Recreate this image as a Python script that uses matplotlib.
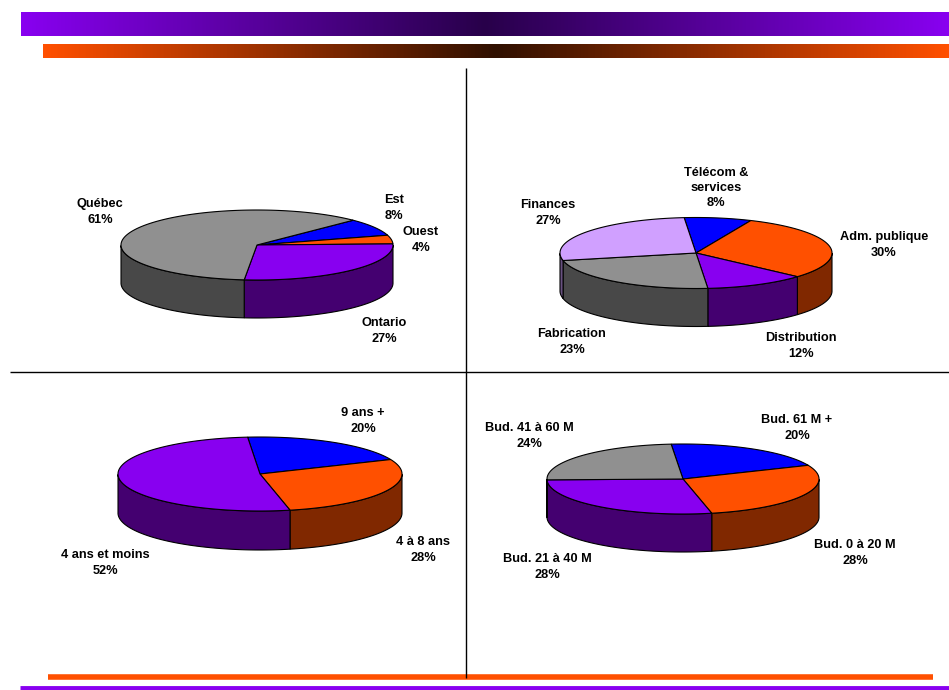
#!/usr/bin/env python3
import numpy as np
import matplotlib
matplotlib.use('Agg')
import matplotlib.pyplot as plt
from matplotlib.colors import LinearSegmentedColormap

plt.rcParams['font.family'] = ['Liberation Sans', 'DejaVu Sans']

# data
region_names = ['Est', 'Ouest', 'Ontario', 'Québec']
region_vals = [8, 4, 27, 61]
sector_names = ['Télécom &\nservices', 'Adm. publique', 'Distribution', 'Fabrication', 'Finances']
sector_vals = [8, 30, 12, 23, 27]
age_names = ['9 ans +', '4 à 8 ans', '4 ans et moins']
age_vals = [20, 28, 52]
budget_names = ['Bud. 61 M +', 'Bud. 0 à 20 M', 'Bud. 21 à 40 M', 'Bud. 41 à 60 M']
budget_vals = [20, 28, 28, 24]

BLUE = ('#0000FF', '#000080')
ORANGE = ('#FF5000', '#802800')
PURPLE = ('#8800F0', '#440070')
GREY = ('#909090', '#484848')
LILAC = ('#D0A0FF', '#685080')

fig = plt.figure(figsize=(9.49, 6.9), dpi=100)
ax = fig.add_axes([0, 0, 1, 1])
ax.set_xlim(0, 949)
ax.set_ylim(690, 0)
ax.axis('off')


def gradient(x0, x1, y0, y1, edge, mid):
    cmap = LinearSegmentedColormap.from_list('g', [edge, mid, edge])
    ax.imshow(np.linspace(0, 1, 512).reshape(1, -1), cmap=cmap, aspect='auto',
              extent=(x0, x1, y1, y0), zorder=1)


def pie3d(cx, cy, rx, ry, depth, start, vals, colors):
    # slices run clockwise from the start angle
    angles = start - np.cumsum([0] + vals) * 3.6
    for a0, a1, (top, side) in zip(angles[:-1], angles[1:], colors):
        t = np.radians(np.linspace(a0, a1, 200))
        x = cx + rx * np.cos(t)
        y = cy - ry * np.sin(t)
        # wall only where the arc faces the viewer
        front = np.sin(t) <= 0
        if front.any():
            fx, fy = x[front], y[front]
            ax.fill(np.r_[fx, fx[::-1]], np.r_[fy, fy[::-1] + depth],
                    facecolor=side, edgecolor='black', linewidth=0.8, zorder=3)
        ax.fill(np.r_[cx, x], np.r_[cy, y], facecolor=top, edgecolor='black',
                linewidth=0.8, zorder=4)


def labels(names, vals, positions):
    for name, val, (x, y) in zip(names, vals, positions):
        ax.text(x, y, f'{name}\n{val}%', ha='center', va='center', fontsize=9.2,
                fontweight='bold', color='black', linespacing=1.34, zorder=5)


# bandeaux du haut
gradient(21, 949, 12, 36, '#8800F0', '#28004A')
gradient(43, 949, 44, 58, '#FF5000', '#301000')

# bas de page
ax.plot([48, 933], [677, 677], color='#FF5000', lw=4, solid_capstyle='butt', zorder=2)
ax.plot([20, 949], [688, 688], color='#8800F0', lw=3.5, solid_capstyle='butt', zorder=2)

# separateurs
ax.plot([466, 466], [68, 678], color='black', lw=1, solid_capstyle='butt', zorder=2.5)
ax.plot([10, 949], [372, 372], color='black', lw=1, solid_capstyle='butt', zorder=2.5)

pie3d(257, 245, 136, 35, 38, 45, region_vals, [BLUE, ORANGE, PURPLE, GREY])
labels(region_names, region_vals, [(394, 208), (421, 240), (384, 331), (100, 212)])

pie3d(696, 253, 136, 35.5, 38, 95, sector_vals, [BLUE, ORANGE, PURPLE, GREY, LILAC])
labels(sector_names, sector_vals,
       [(716, 188), (884, 245), (801, 346), (572, 342), (548, 213)])

pie3d(260, 474, 142, 37, 39, 95, age_vals, [BLUE, ORANGE, PURPLE])
labels(age_names, age_vals, [(363, 421), (423, 550), (105, 563)])

pie3d(683, 479, 136, 35, 38, 95, budget_vals, [BLUE, ORANGE, PURPLE, GREY])
labels(budget_names, budget_vals, [(797, 428), (855, 553), (547, 567), (529, 436)])

ax.set_xlim(0, 949)
ax.set_ylim(690, 0)
fig.savefig('out.png', dpi=100, facecolor='white')
